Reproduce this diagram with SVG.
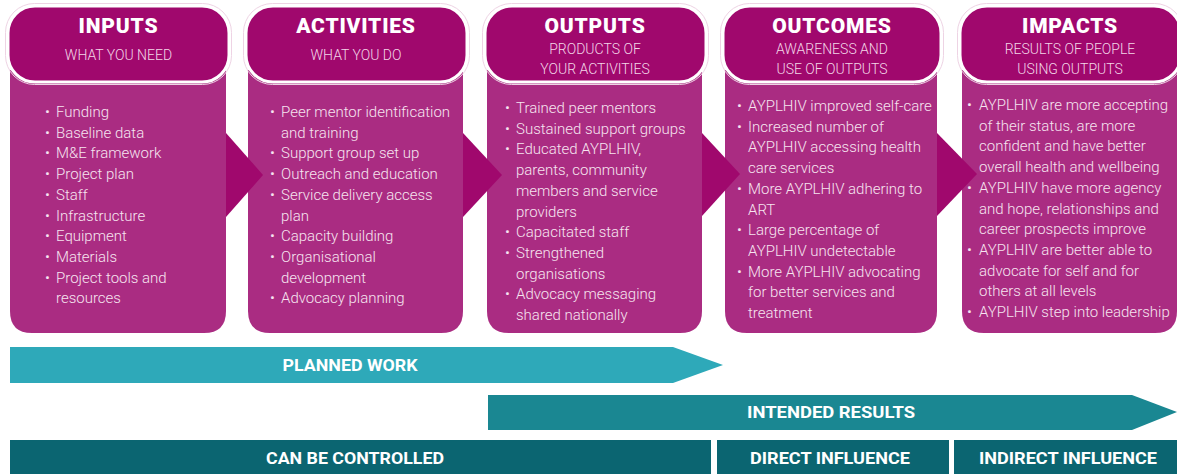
<svg xmlns="http://www.w3.org/2000/svg" width="1177" height="474" viewBox="0 0 1177 474">
<style>
.body{fill:#AA2C82}
.hdr{fill:#A0086D;stroke:#fff;stroke-width:3}
.hdro{fill:none;stroke:#EED3E4;stroke-width:1}
.title{font-family:Roboto,"Liberation Sans",sans-serif;font-weight:900;font-size:21px;fill:#fff;text-anchor:middle;letter-spacing:0.8px}
.sub{font-family:Roboto,"Liberation Sans",sans-serif;font-weight:300;font-size:14px;fill:#F3D6E8;text-anchor:middle}
.item{font-family:Roboto,"Liberation Sans",sans-serif;font-weight:300;font-size:15px;fill:#F6E4F0}
.chev{fill:#A0086D}
.band{font-family:Roboto,"Liberation Sans",sans-serif;font-weight:700;font-size:16px;fill:#fff;text-anchor:middle}
</style>
<rect width="1177" height="474" fill="#fff"/>

<g id="inputs">
<path class="body" d="M10 70 H226 V311 Q226 333 204 333 H32 Q10 333 10 311 Z"/>
<rect class="hdro" x="5.5" y="3.5" width="226" height="81" rx="29"/>
<rect class="hdr" x="8" y="6" width="221" height="76" rx="27"/>
<text class="title" x="118.5" y="33">INPUTS</text>
<text class="sub" x="118.5" y="60">WHAT YOU NEED</text>
<g class="item">
<text x="45" y="117">•</text><text x="56" y="117">Funding</text>
<text x="45" y="137.7">•</text><text x="56" y="137.7">Baseline data</text>
<text x="45" y="158.4">•</text><text x="56" y="158.4">M&amp;E framework</text>
<text x="45" y="179.1">•</text><text x="56" y="179.1">Project plan</text>
<text x="45" y="199.8">•</text><text x="56" y="199.8">Staff</text>
<text x="45" y="220.5">•</text><text x="56" y="220.5">Infrastructure</text>
<text x="45" y="241.2">•</text><text x="56" y="241.2">Equipment</text>
<text x="45" y="261.9">•</text><text x="56" y="261.9">Materials</text>
<text x="45" y="282.6">•</text><text x="56" y="282.6">Project tools and</text>
<text x="56" y="303.3">resources</text>
</g>
</g>

<g id="activities">
<path class="body" d="M248 70 H463 V311 Q463 333 441 333 H270 Q248 333 248 311 Z"/>
<rect class="hdro" x="243.5" y="3.5" width="226" height="81" rx="29"/>
<rect class="hdr" x="246" y="6" width="221" height="76" rx="27"/>
<text class="title" x="356" y="33">ACTIVITIES</text>
<text class="sub" x="356" y="60">WHAT YOU DO</text>
<g class="item">
<text x="270" y="117">•</text><text x="281" y="117">Peer mentor identification</text>
<text x="281" y="137.7">and training</text>
<text x="270" y="158.4">•</text><text x="281" y="158.4">Support group set up</text>
<text x="270" y="179.1">•</text><text x="281" y="179.1">Outreach and education</text>
<text x="270" y="199.8">•</text><text x="281" y="199.8">Service delivery access</text>
<text x="281" y="220.5">plan</text>
<text x="270" y="241.2">•</text><text x="281" y="241.2">Capacity building</text>
<text x="270" y="261.9">•</text><text x="281" y="261.9">Organisational</text>
<text x="281" y="282.6">development</text>
<text x="270" y="303.3">•</text><text x="281" y="303.3">Advocacy planning</text>
</g>
</g>

<g id="outputs">
<path class="body" d="M487 70 H702 V311 Q702 333 680 333 H509 Q487 333 487 311 Z"/>
<rect class="hdro" x="482.5" y="3.5" width="226" height="81" rx="29"/>
<rect class="hdr" x="485" y="6" width="221" height="76" rx="27"/>
<text class="title" x="595" y="33">OUTPUTS</text>
<text class="sub" x="595" y="54">PRODUCTS OF</text>
<text class="sub" x="595" y="73.5">YOUR ACTIVITIES</text>
<g class="item">
<text x="505" y="113">•</text><text x="516" y="113">Trained peer mentors</text>
<text x="505" y="133.7">•</text><text x="516" y="133.7">Sustained support groups</text>
<text x="505" y="154.4">•</text><text x="516" y="154.4">Educated AYPLHIV,</text>
<text x="516" y="175.1">parents, community</text>
<text x="516" y="195.8">members and service</text>
<text x="516" y="216.5">providers</text>
<text x="505" y="237.2">•</text><text x="516" y="237.2">Capacitated staff</text>
<text x="505" y="257.9">•</text><text x="516" y="257.9">Strengthened</text>
<text x="516" y="278.6">organisations</text>
<text x="505" y="299.3">•</text><text x="516" y="299.3">Advocacy messaging</text>
<text x="516" y="320">shared nationally</text>
</g>
</g>

<g id="outcomes">
<path class="body" d="M725 70 H937 V311 Q937 333 915 333 H747 Q725 333 725 311 Z"/>
<rect class="hdro" x="720.5" y="3.5" width="223" height="81" rx="29"/>
<rect class="hdr" x="723" y="6" width="218" height="76" rx="27"/>
<text class="title" x="832" y="33">OUTCOMES</text>
<text class="sub" x="832" y="54">AWARENESS AND</text>
<text class="sub" x="832" y="73.5">USE OF OUTPUTS</text>
<g class="item">
<text x="737" y="111">•</text><text x="748" y="111">AYPLHIV improved self-care</text>
<text x="737" y="131.7">•</text><text x="748" y="131.7">Increased number of</text>
<text x="748" y="152.4">AYPLHIV accessing health</text>
<text x="748" y="173.1">care services</text>
<text x="737" y="193.8">•</text><text x="748" y="193.8">More AYPLHIV adhering to</text>
<text x="748" y="214.5">ART</text>
<text x="737" y="235.2">•</text><text x="748" y="235.2">Large percentage of</text>
<text x="748" y="255.9">AYPLHIV undetectable</text>
<text x="737" y="276.6">•</text><text x="748" y="276.6">More AYPLHIV advocating</text>
<text x="748" y="297.3">for better services and</text>
<text x="748" y="318">treatment</text>
</g>
</g>

<g id="impacts">
<path class="body" d="M962 70 H1177 V311 Q1177 333 1155 333 H984 Q962 333 962 311 Z"/>
<rect class="hdro" x="957.5" y="3.5" width="226" height="81" rx="29"/>
<rect class="hdr" x="960" y="6" width="221" height="76" rx="27"/>
<text class="title" x="1070" y="33">IMPACTS</text>
<text class="sub" x="1070" y="54">RESULTS OF PEOPLE</text>
<text class="sub" x="1070" y="73.5">USING OUTPUTS</text>
<g class="item">
<text x="967" y="110">•</text><text x="979" y="110">AYPLHIV are more accepting</text>
<text x="979" y="130.7">of their status, are more</text>
<text x="979" y="151.4">confident and have better</text>
<text x="979" y="172.1">overall health and wellbeing</text>
<text x="967" y="192.8">•</text><text x="979" y="192.8">AYPLHIV have more agency</text>
<text x="979" y="213.5">and hope, relationships and</text>
<text x="979" y="234.2">career prospects improve</text>
<text x="967" y="254.9">•</text><text x="979" y="254.9">AYPLHIV are better able to</text>
<text x="979" y="275.6">advocate for self and for</text>
<text x="979" y="296.3">others at all levels</text>
<text x="967" y="317">•</text><text x="979" y="317">AYPLHIV step into leadership</text>
</g>
</g>

<g id="connectors">
<polygon class="chev" points="226,133 263,175 226,217"/>
<polygon class="chev" points="463,133 502,175 463,217"/>
<polygon class="chev" points="702,133 740,174 702,216"/>
<polygon class="chev" points="937,133 977,174 937,216"/>
</g>

<g id="bands">
<polygon points="10,347 673,347 723,365 673,383 10,383" fill="#2EA9B9"/>
<text class="band" x="350" y="371" textLength="135" lengthAdjust="spacingAndGlyphs" font-size="17">PLANNED WORK</text>
<polygon points="488,395 1132,395 1177,412 1132,430 488,430" fill="#1A8792"/>
<text class="band" x="831" y="418" textLength="168" lengthAdjust="spacingAndGlyphs">INTENDED RESULTS</text>
<rect x="10" y="440" width="701" height="34" fill="#0B6571"/>
<rect x="717" y="440" width="232" height="34" fill="#0B6571"/>
<rect x="954" y="440" width="223" height="34" fill="#0B6571"/>
<text class="band" x="355" y="464" textLength="178" lengthAdjust="spacingAndGlyphs" font-size="17">CAN BE CONTROLLED</text>
<text class="band" x="830" y="464" textLength="160" lengthAdjust="spacingAndGlyphs">DIRECT INFLUENCE</text>
<text class="band" x="1068" y="464" textLength="178" lengthAdjust="spacingAndGlyphs">INDIRECT INFLUENCE</text>
</g>
</svg>
